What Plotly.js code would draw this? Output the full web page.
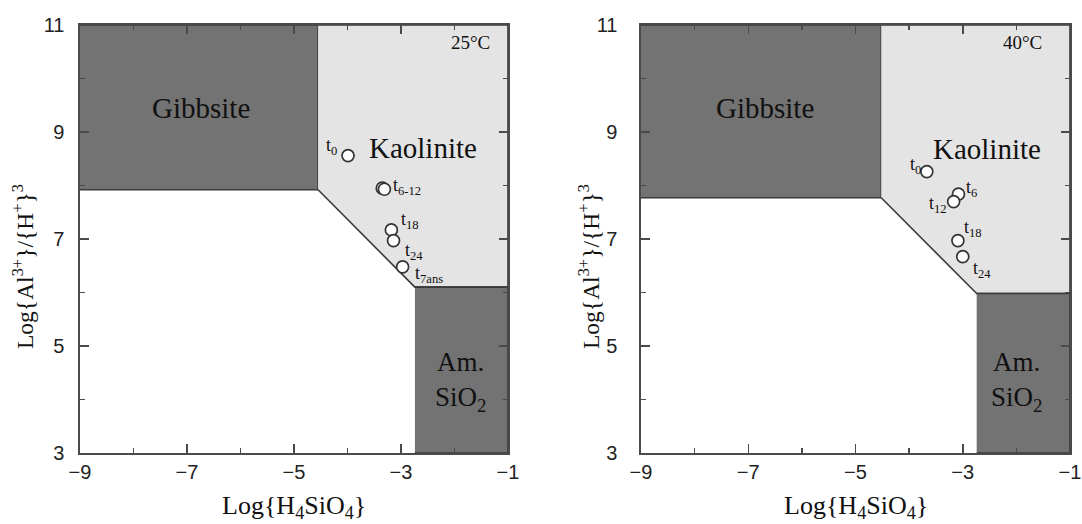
<!DOCTYPE html>
<html>
<head>
<meta charset="utf-8">
<script src="https://cdn.plot.ly/plotly-3.0.1.min.js"></script>
<style>html,body{margin:0;padding:0;background:#fff;}#chart{width:1082px;height:524px;}</style>
</head>
<body>
<div id="chart"></div>
<script>
// ---- Data ----
const panelTemps = ['25°C', '40°C'];
const xTickVals = [-9, -7, -5, -3, -1];
const yTickVals = [3, 5, 7, 9, 11];

// Phase-field boundaries, 25 °C
const gibbsite25X = [-9, -4.55, -4.55, -9];
const gibbsite25Y = [7.92, 7.92, 11, 11];
const kaolinite25X = [-4.55, -1, -1, -2.74, -4.55];
const kaolinite25Y = [11, 11, 6.1, 6.1, 7.92];
const amSiO225X = [-2.74, -1, -1, -2.74];
const amSiO225Y = [3, 3, 6.1, 6.1];

// Phase-field boundaries, 40 °C
const gibbsite40X = [-9, -4.52, -4.52, -9];
const gibbsite40Y = [7.77, 7.77, 11, 11];
const kaolinite40X = [-4.52, -1, -1, -2.74, -4.52];
const kaolinite40Y = [11, 11, 5.98, 5.98, 7.77];
const amSiO240X = [-2.74, -1, -1, -2.74];
const amSiO240Y = [3, 3, 5.98, 5.98];

// Solution compositions
const samples25 = ['t0', 't6', 't12', 't18', 't24', 't7ans'];
const logSi25 = [-3.99, -3.35, -3.31, -3.18, -3.14, -2.97];
const logAl25 = [8.56, 7.95, 7.93, 7.17, 6.97, 6.48];
const pointLabels25 = ['t<sub>0</sub>', 't<sub>6-12</sub>', '', 't<sub>18</sub>', 't<sub>24</sub>', 't<sub>7ans</sub>'];

const samples40 = ['t0', 't6', 't12', 't18', 't24'];
const logSi40 = [-3.67, -3.08, -3.17, -3.09, -3.00];
const logAl40 = [8.26, 7.84, 7.70, 6.97, 6.67];
const pointLabels40 = ['t<sub>0</sub>', 't<sub>6</sub>', 't<sub>12</sub>', 't<sub>18</sub>', 't<sub>24</sub>'];

// ---- Styling / placement (not data) ----
const DARK = '#737373', LIGHT = '#e4e4e4', EDGE = '#3a3a3a', AX = '#4a4a4a';
const SERIF = '"Liberation Serif", "Times New Roman", serif';
const SANS = '"Liberation Sans", Arial, sans-serif';
// label offsets [xanchor, xshift, yshift]
const labelPos25 = [['right', -9, 9], ['left', 9, 2], null, ['left', 8, 9], ['left', 9, -11], ['left', 10, -8]];
const labelPos40 = [['right', -4, 6], ['left', 6, 6], ['right', -5, -3], ['left', 4, 12], ['left', 8, -13]];

function poly(x, y, fill, xa, ya) {
  return {x: x, y: y, xaxis: xa, yaxis: ya, type: 'scatter', mode: 'lines', fill: 'toself',
    fillcolor: fill, line: {color: EDGE, width: 1.6}, hoverinfo: 'skip', showlegend: false};
}
function pts(x, y, names, xa, ya) {
  return {x: x, y: y, text: names, xaxis: xa, yaxis: ya, type: 'scatter', mode: 'markers',
    marker: {size: 12, color: '#ffffff', line: {color: '#333333', width: 1.7}}, showlegend: false};
}

const traces = [
  poly(gibbsite25X, gibbsite25Y, DARK, 'x', 'y'),
  poly(kaolinite25X, kaolinite25Y, LIGHT, 'x', 'y'),
  poly(amSiO225X, amSiO225Y, DARK, 'x', 'y'),
  pts(logSi25, logAl25, samples25, 'x', 'y'),
  poly(gibbsite40X, gibbsite40Y, DARK, 'x2', 'y2'),
  poly(kaolinite40X, kaolinite40Y, LIGHT, 'x2', 'y2'),
  poly(amSiO240X, amSiO240Y, DARK, 'x2', 'y2'),
  pts(logSi40, logAl40, samples40, 'x2', 'y2')
];

function xax(domain, anchor) {
  return {domain: domain, anchor: anchor, range: [-9, -1], tickvals: xTickVals,
    showgrid: false, zeroline: false, showline: true, mirror: 'ticks', linecolor: AX, linewidth: 1.6,
    ticks: 'inside', ticklen: 9, tickwidth: 1.5, tickcolor: AX,
    minor: {dtick: 1, tick0: -9, ticks: 'inside', ticklen: 5, tickwidth: 1.5, tickcolor: AX, showgrid: false},
    tickfont: {family: SANS, size: 20, color: '#222'}, fixedrange: true};
}
function yax(domain, anchor, standoff) {
  return {domain: domain, anchor: anchor, range: [3, 11], tickvals: yTickVals,
    showgrid: false, zeroline: false, showline: true, mirror: 'ticks', linecolor: AX, linewidth: 1.6,
    ticks: 'inside', ticklen: 9, tickwidth: 1.5, tickcolor: AX,
    minor: {dtick: 1, tick0: 3, ticks: 'inside', ticklen: 5, tickwidth: 1.5, tickcolor: AX, showgrid: false},
    tickfont: {family: SANS, size: 20, color: '#222'}, ticklabelstandoff: standoff, fixedrange: true};
}

const YD = [71 / 524, 499 / 524];
const X1 = [80 / 1082, 508 / 1082];
const X2 = [641 / 1082, 1070 / 1082];

const ann = [];
function txt(xref, yref, x, y, text, size, extra) {
  ann.push(Object.assign({xref: xref, yref: yref, x: x, y: y, text: text, showarrow: false,
    font: {family: SERIF, size: size, color: '#111'}}, extra || {}));
}
// phase-field names
txt('x', 'y', -6.73, 9.45, 'Gibbsite', 29);
txt('x', 'y', -2.59, 8.70, 'Kaolinite', 29);
txt('x', 'y', -1.88, 4.33, 'Am.<br>SiO<sub>2</sub>', 27);
txt('x', 'y', -1.71, 10.68, panelTemps[0], 19);
txt('x2', 'y2', -6.69, 9.45, 'Gibbsite', 29);
txt('x2', 'y2', -2.54, 8.68, 'Kaolinite', 29);
txt('x2', 'y2', -2.0, 4.33, 'Am.<br>SiO<sub>2</sub>', 27);
txt('x2', 'y2', -1.89, 10.68, panelTemps[1], 19);
// point labels
pointLabels25.forEach((t, i) => {
  if (!t) return;
  const p = labelPos25[i];
  txt('x', 'y', logSi25[i], logAl25[i], t, 18, {xanchor: p[0], yanchor: 'middle', xshift: p[1], yshift: p[2]});
});
pointLabels40.forEach((t, i) => {
  const p = labelPos40[i];
  txt('x2', 'y2', logSi40[i], logAl40[i], t, 18, {xanchor: p[0], yanchor: 'middle', xshift: p[1], yshift: p[2]});
});
// axis titles
const yTitle = 'Log{Al<sup>3+</sup>}/{H<sup>+</sup>}<sup>3</sup>';
const xTitle = 'Log{H<sub>4</sub>SiO<sub>4</sub>}';
txt('paper', 'paper', 23 / 1082, (524 - 267) / 524, yTitle, 23.5, {textangle: -90, xanchor: 'center', yanchor: 'middle'});
txt('paper', 'paper', 589 / 1082, (524 - 267) / 524, yTitle, 23.5, {textangle: -90, xanchor: 'center', yanchor: 'middle'});
txt('paper', 'paper', (X1[0] + X1[1]) / 2, 0, xTitle, 26, {xanchor: 'center', yanchor: 'bottom', borderpad: 0});
txt('paper', 'paper', (X2[0] + X2[1]) / 2, 0, xTitle, 26, {xanchor: 'center', yanchor: 'bottom', borderpad: 0});

const layout = {
  width: 1082, height: 524,
  margin: {l: 0, r: 0, t: 0, b: 0, autoexpand: false},
  paper_bgcolor: '#ffffff', plot_bgcolor: '#ffffff',
  showlegend: false,
  xaxis: xax(X1, 'y'), yaxis: yax(YD, 'x', 10),
  xaxis2: xax(X2, 'y2'), yaxis2: yax(YD, 'x2', 18),
  annotations: ann
};

Plotly.newPlot('chart', traces, layout, {displayModeBar: false, staticPlot: true});
</script>
</body>
</html>
